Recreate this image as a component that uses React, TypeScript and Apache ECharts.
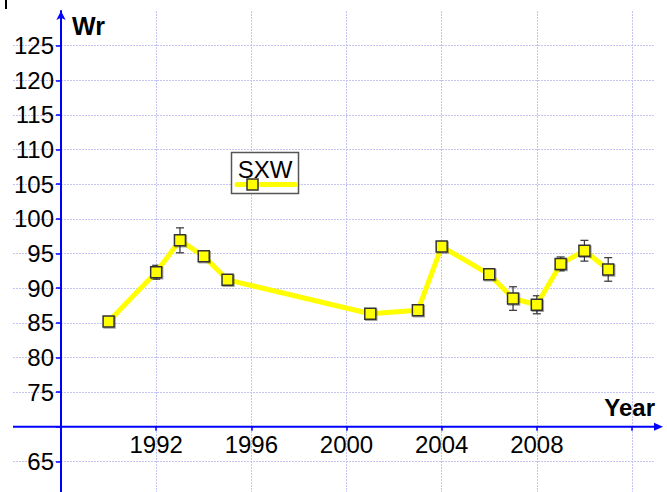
import React, { useEffect, useRef } from "react";
import * as echarts from "echarts";

const years = [1990, 1992, 1993, 1994, 1995, 2001, 2003, 2004, 2006, 2007, 2008, 2009, 2010, 2011];
const values = [85.2, 92.3, 96.9, 94.6, 91.2, 86.3, 86.8, 96.0, 92.0, 88.5, 87.6, 93.5, 95.4, 92.7];
const errors = [0, 1.0, 1.8, 0, 0, 0.6, 0.6, 0, 0, 1.7, 1.3, 1.0, 1.5, 1.7];
const xTickLabels = [1992, 1996, 2000, 2004, 2008];
const xTickValues = [1988, 1992, 1996, 2000, 2004, 2008, 2012];
const yTickLabels = [65, 75, 80, 85, 90, 95, 100, 105, 110, 115, 120, 125];
const yTickValues = [65, 70, 75, 80, 85, 90, 95, 100, 105, 110, 115, 120, 125];
const seriesName = "SXW";
const xTitle = "Year";
const yTitle = "Wr";

const FONT = "'Liberation Sans', Arial, sans-serif";
const BLUE = "#0000ff";
const GRID_COLOR = "#c4c4f2";
const YELLOW = "#ffff00";
const MARK_BORDER = "#333333";

export default function App() {
  const ref = useRef<HTMLDivElement>(null);
  useEffect(() => {
    if (!ref.current) return;
    const chart = echarts.init(ref.current, null, { renderer: "svg" });
    const gridLine = { show: true, lineStyle: { color: GRID_COLOR, width: 1, type: [2, 1] as any } };
    const option: any = {
      animation: false,
      backgroundColor: "#ffffff",
      grid: [
        { left: 13, right: 12, top: 11, height: 485, containLabel: false, outerBoundsMode: "none" },
        { left: 61, right: 35, top: 11, height: 485, containLabel: false, outerBoundsMode: "none" },
      ],
      xAxis: [
        { gridIndex: 0, type: "value", min: 0, max: 1, show: false },
        {
          gridIndex: 1,
          type: "value",
          min: 1988,
          max: 2012,
          interval: 4,
          axisLine: { show: false },
          axisTick: { show: true, length: 4, customValues: xTickValues, lineStyle: { color: BLUE, width: 1.5 } },
          axisLabel: {
            customValues: xTickLabels,
            formatter: (v: number) => (xTickLabels.includes(v) ? String(v) : ""),
            fontSize: 24,
            fontFamily: FONT,
            color: "#000",
            margin: 6,
          },
          splitLine: { ...gridLine, showMinLine: false },
        },
      ],
      yAxis: [
        {
          gridIndex: 0,
          type: "value",
          min: 60,
          max: 130,
          interval: 5,
          axisLine: { show: false },
          axisTick: { show: false },
          axisLabel: { show: false },
          splitLine: { ...gridLine, showMaxLine: false, showMinLine: false },
        },
        {
          gridIndex: 1,
          type: "value",
          min: 60,
          max: 130,
          interval: 5,
          axisLine: {
            show: true,
            lineStyle: { color: BLUE, width: 2 },
            symbol: ["none", "arrow"],
            symbolSize: [7, 9],
          },
          axisTick: { show: true, length: 5, customValues: yTickValues, lineStyle: { color: BLUE, width: 1.5 } },
          axisLabel: {
            customValues: yTickLabels,
            formatter: (v: number) => (yTickLabels.includes(v) ? String(v) : ""),
            fontSize: 24,
            fontFamily: FONT,
            color: "#000",
            margin: 7,
          },
          splitLine: { show: false },
        },
      ],
      series: [
        {
          type: "custom",
          name: seriesName + " error",
          xAxisIndex: 1,
          yAxisIndex: 1,
          z: 2,
          data: years.map((y, i) => [y, values[i], errors[i]]),
          renderItem: (params: any, api: any) => {
            const x = api.value(0);
            const v = api.value(1);
            const e = api.value(2);
            if (!e) return { type: "group", children: [] };
            const top = api.coord([x, v + e]);
            const bot = api.coord([x, v - e]);
            const hw = 4;
            const style = { stroke: "#333", lineWidth: 1.2 };
            return {
              type: "group",
              children: [
                { type: "line", shape: { x1: top[0], y1: top[1], x2: bot[0], y2: bot[1] }, style },
                { type: "line", shape: { x1: top[0] - hw, y1: top[1], x2: top[0] + hw, y2: top[1] }, style },
                { type: "line", shape: { x1: bot[0] - hw, y1: bot[1], x2: bot[0] + hw, y2: bot[1] }, style },
              ],
            };
          },
        },
        {
          type: "line",
          name: seriesName,
          xAxisIndex: 1,
          yAxisIndex: 1,
          z: 3,
          data: years.map((y, i) => [y, values[i]]),
          symbol: "rect",
          symbolSize: 11,
          showAllSymbol: true,
          lineStyle: { color: YELLOW, width: 5 },
          itemStyle: {
            color: YELLOW,
            borderColor: MARK_BORDER,
            borderWidth: 1.5,
            shadowColor: "rgba(0,0,0,0.35)",
            shadowOffsetX: 1,
            shadowOffsetY: 1,
            shadowBlur: 1,
          },
        },
      ],
    };
    chart.setOption(option);

    const origin = chart.convertToPixel({ gridIndex: 1 }, [1988, 70]) as number[];
    const oy = origin[1];
    const gridBottom = 11 + 485;
    chart.setOption({
      xAxis: [{}, { offset: -(gridBottom - oy) }],
      graphic: [
        { type: "rect", shape: { x: 5, y: 0, width: 2, height: 9 }, style: { fill: "#000" } },
        {
          type: "line",
          shape: { x1: 13, y1: oy, x2: 656, y2: oy },
          style: { stroke: BLUE, lineWidth: 2 },
          z: 10,
        },
        {
          type: "polygon",
          shape: { points: [[663, oy], [654, oy - 4], [654, oy + 4]] },
          style: { fill: BLUE },
          z: 10,
        },
        {
          type: "text",
          x: 72,
          y: 26,
          style: { text: yTitle, font: `bold 25px ${FONT}`, fill: "#000", textVerticalAlign: "middle" },
          z: 10,
        },
        {
          type: "text",
          x: 655,
          y: 407,
          style: {
            text: xTitle,
            font: `bold 24px ${FONT}`,
            fill: "#000",
            textAlign: "right",
            textVerticalAlign: "middle",
          },
          z: 10,
        },
        {
          type: "group",
          z: 20,
          children: [
            {
              type: "rect",
              shape: { x: 231.5, y: 152.5, width: 67, height: 41 },
              style: { fill: "#fff", stroke: "#555", lineWidth: 1.5 },
            },
            {
              type: "text",
              x: 265,
              y: 169,
              style: {
                text: seriesName,
                font: `24px ${FONT}`,
                fill: "#000",
                textAlign: "center",
                textVerticalAlign: "middle",
              },
            },
            {
              type: "line",
              shape: { x1: 237, y1: 184.5, x2: 295, y2: 184.5 },
              style: { stroke: YELLOW, lineWidth: 5, lineCap: "round" },
            },
            {
              type: "rect",
              shape: { x: 247, y: 179, width: 11, height: 11 },
              style: { fill: YELLOW, stroke: MARK_BORDER, lineWidth: 1.5 },
            },
          ],
        },
      ],
    });

    return () => chart.dispose();
  }, []);
  return (
    <div
      ref={ref}
      style={{ position: "fixed", left: 0, top: 0, width: 667, height: 492, background: "#fff" }}
    />
  );
}
